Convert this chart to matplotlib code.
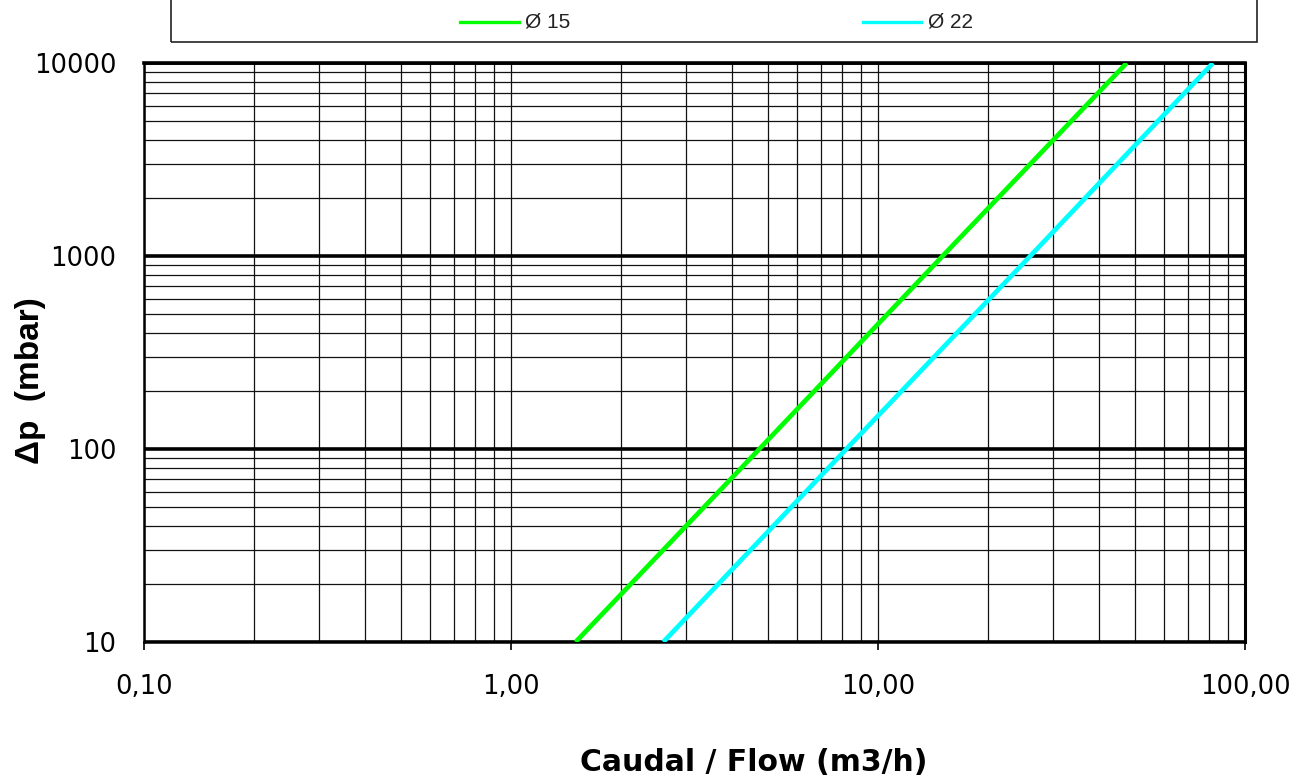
import matplotlib
matplotlib.use("Agg")
import matplotlib.pyplot as plt
from matplotlib.ticker import LogLocator, NullFormatter
from matplotlib.lines import Line2D
from matplotlib.patches import Rectangle

plt.rcParams['font.family'] = ['DejaVu Sans']

# Data
dp_mbar = [10, 100, 1000, 10000]
flow_d15 = [1.50, 4.75, 15.0, 47.6]
flow_d22 = [2.60, 8.2, 26.0, 81.8]
series_labels = ["Ø 15", "Ø 22"]
series_colors = ["#00FF00", "#00FFFF"]
x_ticks = [0.1, 1, 10, 100]
x_tick_labels = ["0,10", "1,00", "10,00", "100,00"]
y_ticks = [10, 100, 1000, 10000]
y_tick_labels = ["10", "100", "1000", "10000"]

W, H = 1306, 778
L, R, T, B = 144, 1245, 63, 642
fig = plt.figure(figsize=(W / 100, H / 100), dpi=100)
ax = fig.add_axes([L / W, 1 - B / H, (R - L) / W, (B - T) / H])

ax.set_xscale('log')
ax.set_yscale('log')
ax.set_xlim(0.1, 100)
ax.set_ylim(10, 10000)

ax.xaxis.set_minor_locator(LogLocator(base=10, subs=[2, 3, 4, 5, 6, 7, 8, 9]))
ax.yaxis.set_minor_locator(LogLocator(base=10, subs=[2, 3, 4, 5, 6, 7, 8, 9]))
ax.xaxis.set_minor_formatter(NullFormatter())
ax.yaxis.set_minor_formatter(NullFormatter())
ax.set_xticks(x_ticks)
ax.set_xticklabels(x_tick_labels)
ax.set_yticks(y_ticks)
ax.set_yticklabels(y_tick_labels)

ax.grid(True, which='minor', axis='both', color='#111111', linewidth=0.9)
ax.grid(True, which='major', axis='x', color='#111111', linewidth=0.9)
ax.grid(True, which='major', axis='y', color='black', linewidth=2.6)
ax.set_axisbelow(True)

for s in ['left', 'bottom']:
    ax.spines[s].set_linewidth(1.8)
ax.spines['right'].set_linewidth(2.2)
ax.spines['top'].set_linewidth(2.6)

ax.tick_params(axis='x', which='major', length=6, width=1.2, direction='out', pad=17, labelsize=18.5)
ax.tick_params(axis='y', which='major', length=0, pad=20, labelsize=18.5)
ax.tick_params(which='minor', length=0)

ax.plot(flow_d15, dp_mbar, color=series_colors[0], linewidth=3.4, solid_capstyle='butt', zorder=3)
ax.plot(flow_d22, dp_mbar, color=series_colors[1], linewidth=3.4, solid_capstyle='butt', zorder=3)

ax.set_xlabel("Caudal / Flow (m3/h)", fontsize=21.5, fontweight='bold')
ax.xaxis.set_label_coords(((580 + 928) / 2 - L) / (R - L), (B - 748) / (B - T))
ax.set_ylabel("Δp  (mbar)", fontsize=24, fontweight='bold', family=['Liberation Sans', 'DejaVu Sans'])
ax.yaxis.set_label_coords((46 - L) / (R - L), (B - 381) / (B - T))

# legend box (top edge outside image)
fig.add_artist(Rectangle((171 / W, 1 - 42 / H), (1257 - 171) / W, 0.2,
                         transform=fig.transFigure, fill=False, edgecolor='#222222', linewidth=1.2))
legend_items = [(460, 519, 525), (863, 921, 928)]
for (x0, x1, xt), lab, col in zip(legend_items, series_labels, series_colors):
    fig.add_artist(Line2D([x0 / W, x1 / W], [1 - 22 / H, 1 - 22 / H], transform=fig.transFigure,
                          color=col, linewidth=2.4))
    fig.text(xt / W, 1 - 22 / H, lab, fontsize=15, va='center', ha='left', color='#222222',
             family=['Liberation Sans', 'DejaVu Sans'])

fig.savefig("out.png", dpi=100)
